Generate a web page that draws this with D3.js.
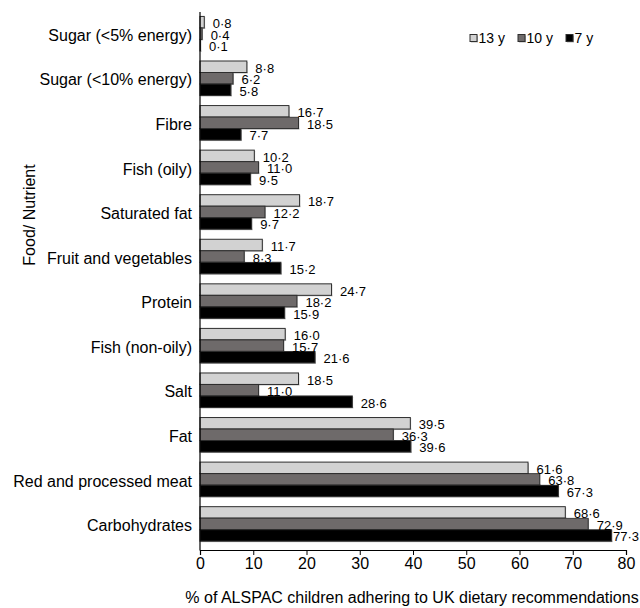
<!DOCTYPE html>
<html>
<head>
<meta charset="utf-8">
<script src="https://cdn.jsdelivr.net/npm/d3@7"></script>
<style>
  html, body { margin: 0; padding: 0; background: #fff; }
  svg { display: block; font-family: "Liberation Sans", Arial, sans-serif; }
</style>
</head>
<body>
<svg id="chart" width="640" height="608"></svg>
<script>
const categories = ["Sugar (<5% energy)", "Sugar (<10% energy)", "Fibre", "Fish (oily)", "Saturated fat",
  "Fruit and vegetables", "Protein", "Fish (non-oily)", "Salt", "Fat", "Red and processed meat", "Carbohydrates"];
const seriesNames = ["13 y", "10 y", "7 y"];
const values13 = [0.8, 8.8, 16.7, 10.2, 18.7, 11.7, 24.7, 16.0, 18.5, 39.5, 61.6, 68.6];
const values10 = [0.4, 6.2, 18.5, 11.0, 12.2, 8.3, 18.2, 15.7, 11.0, 36.3, 63.8, 72.9];
const values7  = [0.1, 5.8, 7.7, 9.5, 9.7, 15.2, 15.9, 21.6, 28.6, 39.6, 67.3, 77.3];
const xTicks = [0, 10, 20, 30, 40, 50, 60, 70, 80];
const xTitle = "% of ALSPAC children adhering to UK dietary recommendations";
const yTitle = "Food/ Nutrient";

const seriesValues = [values13, values10, values7];
const colors = ["#d2d2d2", "#6e6a6a", "#000000"];
const strokeCol = "#2e2e2e";

const svg = d3.select("#chart");
const x0 = 200, x1 = 626, yAxisY = 550;

const x = d3.scaleLinear().domain([0, 80]).range([x0, x1]);
const y = d3.scaleBand().domain(categories).range([11.4, 546.2]).paddingInner(0.226).paddingOuter(0.113);
const ySub = d3.scaleBand().domain(seriesNames).range([0, y.bandwidth()]);

const fmt = v => d3.format(".1f")(v).replace(".", "\u00b7");

// bars
const groups = svg.append("g").selectAll("g").data(categories).join("g")
  .attr("transform", d => `translate(0,${y(d)})`);

seriesNames.forEach((s, si) => {
  groups.append("rect")
    .attr("x", x(0) + 1)
    .attr("y", ySub(s) + 1)
    .attr("width", (d, i) => Math.max(0, x(seriesValues[si][i]) - x(0)))
    .attr("height", ySub.bandwidth())
    .attr("fill", "#b5b5b5");
  groups.append("rect")
    .attr("x", x(0))
    .attr("y", ySub(s))
    .attr("width", (d, i) => Math.max(0, x(seriesValues[si][i]) - x(0)))
    .attr("height", ySub.bandwidth())
    .attr("fill", colors[si])
    .attr("stroke", strokeCol)
    .attr("stroke-width", 1);
});

// value labels
seriesNames.forEach((s, si) => {
  groups.each(function(d, i) {
    const g = d3.select(this);
    const v = seriesValues[si][i];
    const end = x(v);
    const bg = g.append("rect").attr("fill", "#fff");
    const t = g.append("text")
      .attr("y", ySub(s) + ySub.bandwidth() / 2 + 6)
      .attr("font-size", 13)
      .attr("fill", "#000")
      .text(fmt(v));
    const w = t.node().getComputedTextLength();
    let off = 8.5;
    if (end + off + w > 639) off = Math.max(1, 639 - end - w);
    t.attr("x", end + off);
    bg.attr("x", end + 1).attr("y", ySub(s) + 1.5)
      .attr("width", off + w - 1).attr("height", ySub.bandwidth() - 2);
  });
});

// y axis (labels)
const yAxis = svg.append("g").attr("transform", `translate(${x0},0)`)
  .call(d3.axisLeft(y).tickSize(0).tickPadding(8));
yAxis.select(".domain").remove();
yAxis.selectAll("text").attr("font-size", 16).attr("font-family", "Liberation Sans, Arial, sans-serif")
  .attr("fill", "#000").attr("dy", "0.45em");
svg.append("line").attr("x1", x0).attr("x2", x0).attr("y1", 12).attr("y2", yAxisY + 0.5)
  .attr("stroke", "#000").attr("stroke-width", 1.2);

// x axis
const xAxis = svg.append("g").attr("transform", `translate(0,${yAxisY})`)
  .call(d3.axisBottom(x).tickValues(xTicks).tickSize(5).tickPadding(3).tickFormat(d3.format("d")));
xAxis.select(".domain").attr("stroke", "#000").attr("stroke-width", 1.2);
xAxis.selectAll(".tick line").attr("stroke", "#000");
xAxis.selectAll("text").attr("font-size", 16).attr("font-family", "Liberation Sans, Arial, sans-serif").attr("fill", "#000");

// axis titles
svg.append("text").attr("x", 412).attr("y", 603).attr("text-anchor", "middle")
  .attr("font-size", 16).attr("fill", "#000").text(xTitle);
svg.append("text").attr("transform", "translate(35,215) rotate(-90)").attr("text-anchor", "middle")
  .attr("font-size", 16).attr("fill", "#000").text(yTitle);

// legend
const legendX = [470, 518, 566];
const legend = svg.append("g").selectAll("g").data(seriesNames).join("g")
  .attr("transform", (d, i) => `translate(${legendX[i]},34.5)`);
legend.append("rect").attr("x", 1).attr("y", 1).attr("width", 7).attr("height", 7).attr("fill", "#b5b5b5");
legend.append("rect").attr("width", 7).attr("height", 7)
  .attr("fill", (d, i) => colors[i]).attr("stroke", strokeCol).attr("stroke-width", 1);
legend.append("text").attr("x", 8.5).attr("y", 8).attr("font-size", 14).attr("fill", "#000").text(d => d);
</script>
</body>
</html>
